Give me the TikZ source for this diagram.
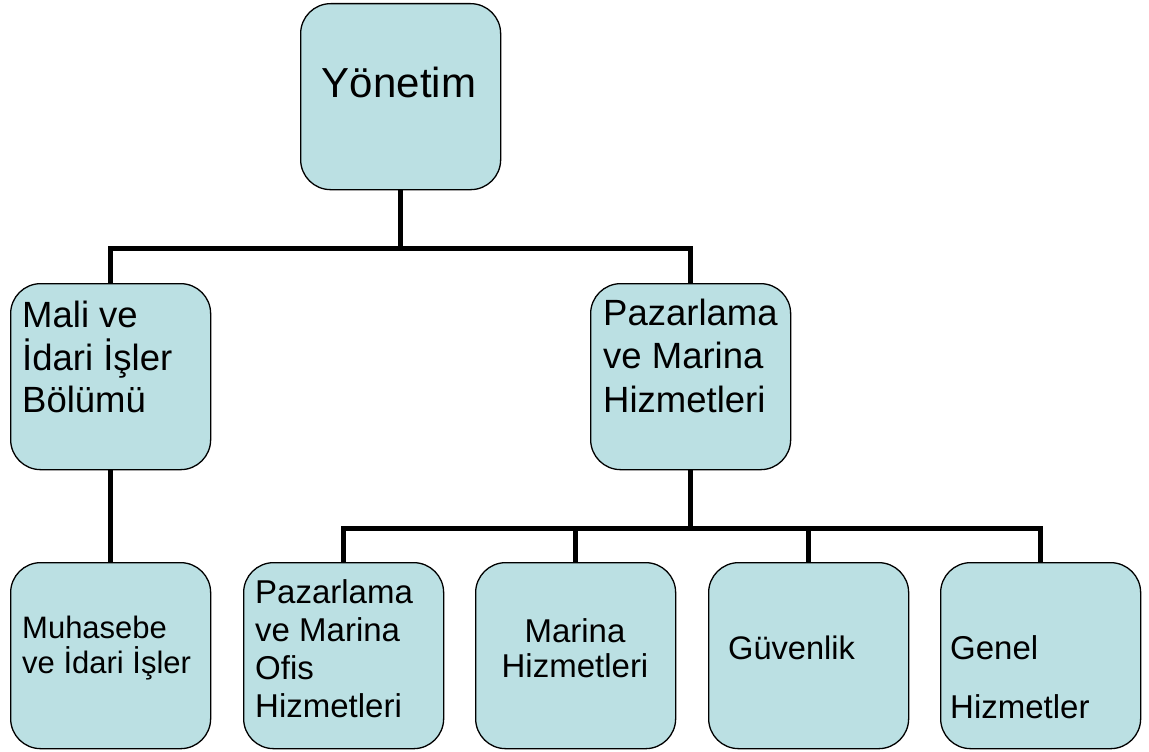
\documentclass[tikz,border=0pt]{standalone}
\usepackage{fontspec}
\setmainfont{Liberation Sans}
\definecolor{boxfill}{RGB}{187,224,227}
\tikzset{
  unit/.style={draw=black, line width=1.3pt, fill=boxfill, rounded corners=30pt,
    minimum width=200pt, minimum height=186pt, inner sep=0pt, anchor=north west},
  conn/.style={draw=black, line width=5pt, line join=miter},
  lbl/.style={inner sep=0pt, anchor=base west, align=left},
}
\begin{document}
\begin{tikzpicture}[x=1pt, y=-1pt]
\useasboundingbox (0,0) rectangle (1149,752);

% boxes
\node[unit] (yon)  at (300,3)   {};
\node[unit] (mali) at (10,283)  {};
\node[unit] (paz)  at (590,283) {};
\node[unit] (muh)  at (10,562)  {};
\node[unit] (ofis) at (243,562) {};
\node[unit] (mar)  at (475,562) {};
\node[unit] (guv)  at (708,562) {};
\node[unit] (gen)  at (940,562) {};

% connectors
\coordinate (j1) at (yon.south |- 0,248);
\coordinate (j2) at (paz.south |- 0,528);
\draw[conn] (yon.south) -- (j1);
\draw[conn] (mali.north) |- (j1) -| (paz.north);
\draw[conn] (mali.south) -- (muh.north);
\draw[conn] (paz.south) -- (j2);
\draw[conn] (ofis.north) |- (j2) -| (gen.north);
\draw[conn] (mar.north) -- (mar.north |- j2);
\draw[conn] (guv.north) -- (guv.north |- j2);

% labels
\node[inner sep=0pt, anchor=base] (yonT) at (399,97) {\fontsize{42}{48}\selectfont Yönetim};

\node[lbl] (maliT1) at (22,327) {\fontsize{36.5}{43}\selectfont Mali ve};
\node[lbl] (maliT2) at (22,370) {\fontsize{36.5}{43}\selectfont İdari İşler};
\node[lbl] (maliT3) at (22,412) {\fontsize{36.5}{43}\selectfont Bölümü};

\node[lbl] (pazT1) at (603,325) {\fontsize{36.5}{43}\selectfont Pazarlama};
\node[lbl] (pazT2) at (603,368) {\fontsize{36.5}{43}\selectfont ve Marina};
\node[lbl] (pazT3) at (603,412) {\fontsize{36.5}{43}\selectfont Hizmetleri};

\node[lbl] (muhT1) at (22,638) {\fontsize{31}{35}\selectfont Muhasebe};
\node[lbl] (muhT2) at (22,673) {\fontsize{31}{35}\selectfont ve İdari İşler};

\node[lbl] (ofisT1) at (255,603) {\fontsize{33}{38}\selectfont Pazarlama};
\node[lbl] (ofisT2) at (255,641) {\fontsize{33}{38}\selectfont ve Marina};
\node[lbl] (ofisT3) at (255,679) {\fontsize{33}{38}\selectfont Ofis};
\node[lbl] (ofisT4) at (255,717) {\fontsize{33}{38}\selectfont Hizmetleri};

\node[inner sep=0pt, anchor=base] (marT1) at (575,642) {\fontsize{33}{38}\selectfont Marina};
\node[inner sep=0pt, anchor=base] (marT2) at (575,677) {\fontsize{33}{38}\selectfont Hizmetleri};

\node[lbl] (guvT) at (728,659) {\fontsize{32.6}{38}\selectfont Güvenlik};

\node[lbl] (genT1) at (950,659) {\fontsize{33}{38}\selectfont Genel};
\node[lbl] (genT2) at (950,718) {\fontsize{33}{38}\selectfont Hizmetler};
\end{tikzpicture}
\end{document}
